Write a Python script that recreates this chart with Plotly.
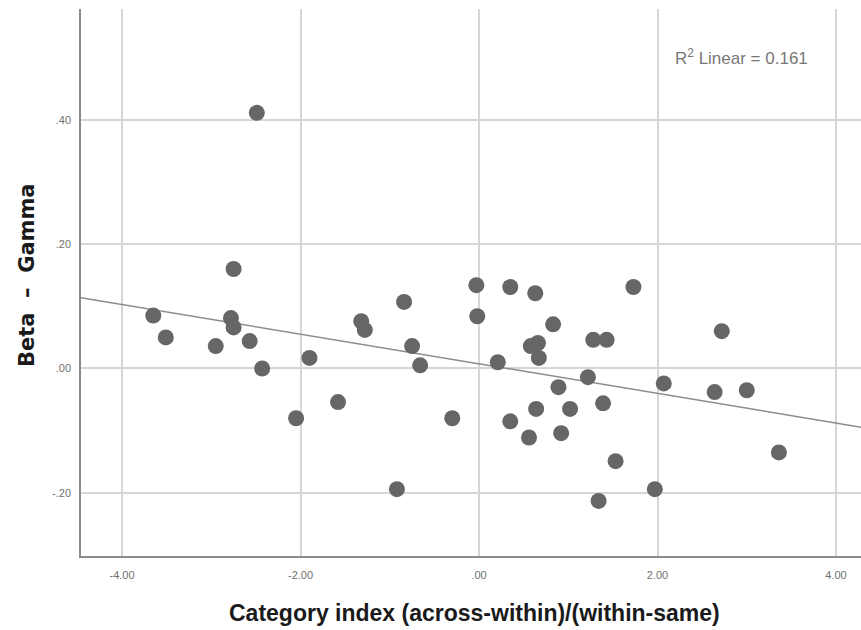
import numpy as np
import plotly.graph_objects as go

# Category index (across-within)/(within-same) per subject
category_index = [
    -2.49, -2.75, -3.65, -3.51, -2.95, -2.78, -2.75, -2.57, -2.43, -2.05,
    -1.90, -1.58, -1.32, -1.28, -0.84, -0.75, -0.66, -0.92, -0.30, -0.03,
    -0.02, 0.21, 0.35, 0.35, 0.56, 0.63, 0.58, 0.66, 0.67, 0.64,
    0.83, 0.89, 0.92, 1.02, 1.22, 1.28, 1.43, 1.39, 1.34, 1.53,
    1.73, 1.97, 2.07, 2.64, 2.72, 3.00, 3.36,
]

# Beta - Gamma difference per subject
beta_minus_gamma = [
    0.411, 0.160, 0.085, 0.050, 0.036, 0.081, 0.066, 0.044, 0.000, -0.080,
    0.017, -0.054, 0.076, 0.062, 0.107, 0.036, 0.005, -0.194, -0.080, 0.134,
    0.084, 0.010, 0.131, -0.085, -0.111, 0.121, 0.036, 0.041, 0.017, -0.065,
    0.071, -0.030, -0.104, -0.065, -0.014, 0.046, 0.046, -0.056, -0.213, -0.149,
    0.131, -0.194, -0.024, -0.038, 0.060, -0.035, -0.135,
]

x_tick_vals = [-4, -2, 0, 2, 4]
x_tick_text = ["-4.00", "-2.00", ".00", "2.00", "4.00"]
y_tick_vals = [-0.2, 0.0, 0.2, 0.4]
y_tick_text = ["-.20", ".00", ".20", ".40"]

x_range = [-4.46, 4.28]
y_range = [-0.3015, 0.578]

# Least-squares linear fit through the points
slope, intercept = np.polyfit(category_index, beta_minus_gamma, 1)
fit_x = np.array(x_range)
fit_y = slope * fit_x + intercept

sans = "Liberation Sans, Arial, sans-serif"

fig = go.Figure()
fig.add_trace(go.Scatter(
    x=fit_x, y=fit_y, mode="lines",
    line=dict(color="#8c8c8c", width=1.5),
    hoverinfo="skip", showlegend=False,
))
fig.add_trace(go.Scatter(
    x=category_index, y=beta_minus_gamma, mode="markers",
    marker=dict(size=16, color="#666666", line=dict(width=0)),
    showlegend=False,
))

fig.update_layout(
    width=861, height=630,
    margin=dict(l=81, r=0, t=9, b=74),
    paper_bgcolor="white", plot_bgcolor="white",
    xaxis=dict(
        range=x_range, tickvals=x_tick_vals, ticktext=x_tick_text,
        showgrid=True, gridcolor="#d6d6d6", gridwidth=1.5,
        zeroline=False, showline=True, linecolor="#8a8a8a", linewidth=1.5,
        ticks="", ticklabelstandoff=8,
        tickfont=dict(family=sans, size=11, color="#707070"),
    ),
    yaxis=dict(
        range=y_range, tickvals=y_tick_vals, ticktext=y_tick_text,
        showgrid=True, gridcolor="#d6d6d6", gridwidth=1.5,
        zeroline=False, showline=True, linecolor="#8a8a8a", linewidth=1.5,
        ticks="", ticklabelstandoff=6,
        tickfont=dict(family=sans, size=11, color="#707070"),
    ),
    annotations=[
        dict(
            text="<b>Category index (across-within)/(within-same)</b>",
            xref="paper", yref="paper", x=0.505, y=-0.104,
            xanchor="center", yanchor="middle", showarrow=False,
            font=dict(family=sans, size=23, color="#1a1a1a"),
        ),
        dict(
            text="<b>Beta  –  Gamma</b>",
            xref="paper", yref="paper", x=-0.069, y=0.514,
            xanchor="center", yanchor="middle", showarrow=False,
            textangle=-90,
            font=dict(family="DejaVu Sans, sans-serif", size=21, color="#1a1a1a"),
        ),
        dict(
            text="R<sup>2</sup> Linear = 0.161",
            xref="paper", yref="paper", x=0.847, y=0.912,
            xanchor="center", yanchor="middle", showarrow=False,
            font=dict(family=sans, size=17, color="#777777"),
        ),
    ],
)

fig.write_html("out.html")
